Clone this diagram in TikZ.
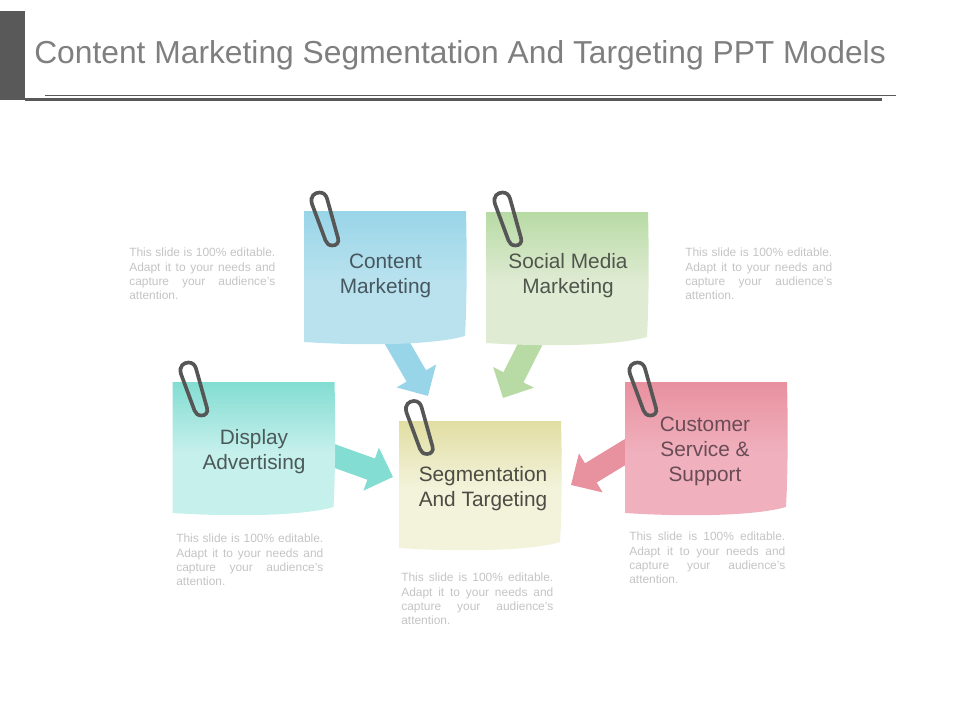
\documentclass[tikz,border=0pt]{standalone}
\usepackage{fontspec}
\setmainfont{Liberation Sans}
\usetikzlibrary{arrows.meta,backgrounds}
\definecolor{headgray}{HTML}{595959}
\definecolor{titlegray}{HTML}{7F7F7F}
\definecolor{bodygray}{HTML}{C4C4C4}
\definecolor{clipgray}{HTML}{565656}
\definecolor{bluetop}{HTML}{99D5E8}
\definecolor{bluelow}{HTML}{B9E2EE}
\definecolor{greentop}{HTML}{B8DBA5}
\definecolor{greenlow}{HTML}{DFEBD3}
\definecolor{tealtop}{HTML}{83DDD2}
\definecolor{teallow}{HTML}{C6F0EC}
\definecolor{yellowtop}{HTML}{E2DEA3}
\definecolor{yellowlow}{HTML}{F3F3DC}
\definecolor{pinktop}{HTML}{E8919F}
\definecolor{pinklow}{HTML}{F0B0BD}
\definecolor{blueink}{HTML}{46575F}
\definecolor{greenink}{HTML}{50564C}
\definecolor{tealink}{HTML}{4B5A58}
\definecolor{yellowink}{HTML}{4C4C44}
\definecolor{pinkink}{HTML}{6A4C56}
\newcommand{\blurbfont}{\fontsize{8.5}{10}\selectfont\hyphenchar\font=-1\relax\tolerance=9999\relax}
\tikzset{
  note/.style={minimum width=4.05cm,minimum height=3.35cm,inner sep=0pt,align=center,
    font=\fontsize{14.8}{17.8}\selectfont},
  blurb/.style={anchor=north west,inner sep=0pt,align=justify,text=bodygray,font=\blurbfont},
  flow/.style={line width=16pt,shorten <=-8pt,-{Triangle[length=16.5pt,width=31.5pt]}},
  paperclip/.pic={
    \draw[clipgray,line width=2.6pt]
      (312,204) .. controls (309.5,196) and (315,192.5) .. (319.5,192.5)
      .. controls (323.5,192.5) and (326,195) .. (327,198.5) -- (338,238)
      .. controls (339.5,243) and (336,245.5) .. (332.5,245.5)
      .. controls (329,245.5) and (326.5,243.5) .. (325.5,240.5) -- cycle;
  }
}
\newcommand{\notepaper}[5][]{
  \begin{scope}[shift={(#2,#3)},#1]
    \clip (0,0) -- (162,0) .. controls (163,40) and (163,90) .. (161,125)
      .. controls (130,134) and (60,135) .. (0,131) -- cycle;
    \foreach \i in {0,...,35}{
      \pgfmathsetmacro{\mixval}{\i*100/35}
      \fill[#5!\mixval!#4] (-1,2*\i) rectangle (164,2*\i+2.5);
    }
    \fill[#5] (-1,71) rectangle (164,136);
  \end{scope}
}
\begin{document}
\begin{tikzpicture}[x=0.025cm,y=-0.025cm]
  \useasboundingbox (0,0) rectangle (960,720);
  % header
  \fill[headgray] (0,11) rectangle (25,100);
  \draw[headgray,line width=0.7pt] (45,95.5) -- (896,95.5);
  \draw[headgray,line width=1.5pt] (25,99.5) -- (882,99.5);
  \node[anchor=west,inner sep=0pt,text=titlegray,font=\fontsize{22.6}{26}\selectfont] (title) at (34,55)
    {Content Marketing Segmentation And Targeting PPT Models};
  % paper
  \notepaper{304}{211}{bluetop}{bluelow}
  \notepaper{486}{212}{greentop}{greenlow}
  \notepaper{172.5}{382}{tealtop}{teallow}
  \notepaper[yscale=.97]{399}{421}{yellowtop}{yellowlow}
  \notepaper{625}{382}{pinktop}{pinklow}
  % labels
  \node[note,text=blueink] (content) at (385.5,276) {Content\\Marketing};
  \node[note,text=greenink] (social) at (568,276) {Social Media\\Marketing};
  \node[note,text=tealink] (display) at (254,452) {Display\\Advertising};
  \node[note,text=yellowink] (segment) at (483,489) {Segmentation\\And Targeting};
  \node[note,text=pinkink] (customer) at (705,451.5) {Customer\\Service \&\\Support};
  % arrows
  \coordinate (contenttip) at (428,396);
  \coordinate (socialtip) at (503,398);
  \coordinate (displaytip) at (393,477);
  \coordinate (customertip) at (571,485);
  \begin{scope}[on background layer]
    \draw[flow,bluetop] (content.-80) -- (contenttip);
    \draw[flow,greentop] (social.-119.5) -- (socialtip);
    \draw[flow,tealtop] (display.-3) -- (displaytip);
    \draw[flow,pinktop] (customer.181.5) -- (customertip);
  \end{scope}
  % clips
  \pic at (0,0) {paperclip};
  \pic at (183,0) {paperclip};
  \pic at (-131,170) {paperclip};
  \pic at (94.5,208.5) {paperclip};
  \pic at (318,170) {paperclip};
  % texts
  \node[blurb,text width=3.65cm] (contentnote) at (129,248) {This slide is 100\% editable. Adapt it to your needs and capture your audience's attention.};
  \node[blurb,text width=3.675cm] (socialnote) at (685,248) {This slide is 100\% editable. Adapt it to your needs and capture your audience's attention.};
  \node[blurb,text width=3.675cm] (displaynote) at (176,534) {This slide is 100\% editable. Adapt it to your needs and capture your audience's attention.};
  \node[blurb,text width=3.8cm] (segmentnote) at (401,573) {This slide is 100\% editable. Adapt it to your needs and capture your audience's attention.};
  \node[blurb,text width=3.9cm] (customernote) at (629,532) {This slide is 100\% editable. Adapt it to your needs and capture your audience's attention.};
\end{tikzpicture}
\end{document}
